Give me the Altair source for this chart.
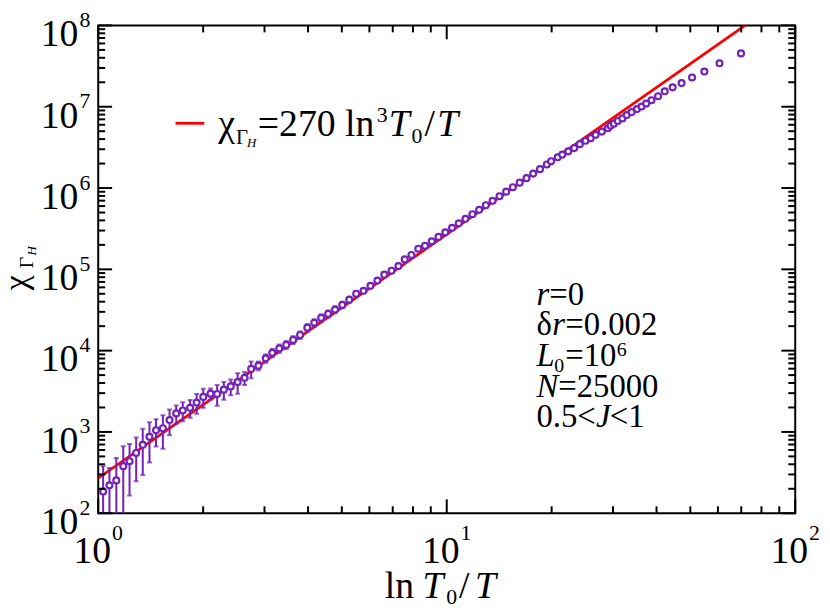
import altair as alt
import pandas as pd

# ---- data ----
ln_T0_T = [1.033, 1.077, 1.127, 1.180, 1.230, 1.285, 1.342, 1.403, 1.465, 1.533,
           1.602, 1.674, 1.748, 1.835, 1.916, 2.002, 2.100, 2.194, 2.293, 2.400,
           2.512, 2.630, 2.747, 2.882, 3.024, 3.159, 3.307, 3.463, 3.625, 3.795,
           3.981, 4.168, 4.363, 4.568, 4.782, 5.017, 5.252, 5.498, 5.771, 6.041,
           6.325, 6.621, 6.945, 7.271, 7.578, 7.922, 8.288, 8.665, 9.060, 9.471,
           9.908, 10.36, 10.83, 11.32, 11.85, 12.39, 12.95, 13.54, 14.17, 14.81,
           15.48, 16.19, 16.94, 17.71, 18.52, 19.37, 19.93, 20.82, 21.46, 22.32,
           23.21, 24.09, 25.01, 25.89, 26.75, 27.87, 29.00, 29.51, 30.16, 30.96,
           31.92, 32.84, 33.93, 35.15, 36.23, 37.36, 38.68, 40.41, 42.22, 44.49,
           47.20, 50.58, 54.86, 60.64, 69.89]

chi = [184.8, 220.4, 253.6, 379.6, 436.7, 551.0, 695.0, 869.8, 1049, 1110,
       1400, 1690, 1838, 1982, 2299, 2696, 2958, 2933, 3309, 3629,
       4105, 4630, 5959, 6535, 8040, 9406, 10640, 11770, 13540, 15570,
       19160, 22040, 25350, 28360, 31990, 36490, 42340, 50090, 54480, 62660,
       72700, 85990, 96180, 109700, 132400, 150200, 179200, 194800, 221000, 250700,
       285200, 324400, 367900, 418500, 476100, 540000, 614200, 697000, 792800, 901800,
       1.023e6, 1.164e6, 1.324e6, 1.506e6, 1.708e6, 1.948e6, 2.137e6, 2.390e6, 2.577e6, 2.827e6,
       3.100e6, 3.468e6, 3.815e6, 4.104e6, 4.514e6, 4.950e6, 5.429e6, 5.856e6, 6.194e6, 6.683e6,
       7.186e6, 7.906e6, 8.598e6, 9.350e6, 1.006e7, 1.094e7, 1.203e7, 1.346e7, 1.548e7, 1.732e7,
       1.954e7, 2.292e7, 2.711e7, 3.421e7, 4.528e7]

# error bars (visible for the first points only)
chi_err = [195, 140, 225, 285, 272, 304, 400, 450, 388, 490,
           490, 430, 480, 490, 630, 710, 475, 840, 820, 800,
           1160, 850, 1400, 800, 950, 1100, 1250, 1350, 1500, 1700,
           2050, 2300, 2600, 2850, 3100, 3400, 3500, 3700, 3600, 3800,
           3900, 4200, 4300, 4500, 4800]

fit_coef = 270
fit_power = 3
fit_x = [1.0, 100.0]

x_decades = [1, 10, 100]
x_exps = ["0", "1", "2"]
y_decades = [1e2, 1e3, 1e4, 1e5, 1e6, 1e7, 1e8]
y_exps = ["2", "3", "4", "5", "6", "7", "8"]

# ---- styling ----
W, H = 703, 492
OX, OY = 99, 23
PURPLE = "#7221BC"
RED = "#FF0000"
FONT = "'Liberation Serif', 'Times New Roman', 'DejaVu Serif', serif"

xs = alt.Scale(type="log", domain=[1, 100], nice=False)
ys = alt.Scale(type="log", domain=[1e2, 1e8], nice=False)

pts = pd.DataFrame({"x": ln_T0_T, "y": chi})
n = len(chi_err)
eb = pd.DataFrame({"x": ln_T0_T[:n], "y": chi[:n], "err": chi_err})
eb["lo_raw"] = eb["y"] - eb["err"]
eb["lo"] = eb["lo_raw"].clip(lower=10)
eb["hi"] = eb["y"] + eb["err"]
caps_hi = eb[["x", "hi"]].rename(columns={"hi": "c"})
caps_lo = eb.loc[eb["lo_raw"] > 0, ["x", "lo_raw"]].rename(columns={"lo_raw": "c"})
caps = pd.concat([caps_hi, caps_lo], ignore_index=True)

fit = pd.DataFrame({"x": fit_x, "y": [fit_coef * v ** fit_power for v in fit_x]})

X = lambda f: alt.X(f, type="quantitative", scale=xs, axis=None)
Y = lambda f: alt.Y(f, type="quantitative", scale=ys, axis=None)

layers = []

# fit line
layers.append(alt.Chart(fit).mark_line(color=RED, strokeWidth=2.8, clip=True)
              .encode(x=X("x"), y=Y("y")))
# error bars
layers.append(alt.Chart(eb).mark_rule(color=PURPLE, strokeWidth=2, clip=True)
              .encode(x=X("x"), y=Y("lo"), y2="hi"))
layers.append(alt.Chart(caps).mark_tick(color=PURPLE, orient="horizontal", size=5,
                                        thickness=2, clip=True)
              .encode(x=X("x"), y=Y("c")))
# points
layers.append(alt.Chart(pts).mark_point(shape="circle", filled=True, fill="white",
                                        stroke=PURPLE, strokeWidth=2.2, size=36, opacity=1)
              .encode(x=X("x"), y=Y("y")))

# ---- inward ticks on all four sides ----
x_major = pd.DataFrame({"v": x_decades})
x_minor = pd.DataFrame({"v": [k * d for d in x_decades[:-1] for k in range(2, 10)]})
y_major = pd.DataFrame({"v": y_decades})
y_minor = pd.DataFrame({"v": [k * d for d in y_decades[:-1] for k in range(2, 10)]})

for df, ln in ((x_major, 14), (x_minor, 7)):
    layers.append(alt.Chart(df).mark_rule(color="black", strokeWidth=2)
                  .encode(x=X("v"), y=alt.value(H), y2=alt.value(H - ln)))
    layers.append(alt.Chart(df).mark_rule(color="black", strokeWidth=2)
                  .encode(x=X("v"), y=alt.value(0), y2=alt.value(ln)))
for df, ln in ((y_major, 14), (y_minor, 7)):
    layers.append(alt.Chart(df).mark_rule(color="black", strokeWidth=2)
                  .encode(y=Y("v"), x=alt.value(0), x2=alt.value(ln)))
    layers.append(alt.Chart(df).mark_rule(color="black", strokeWidth=2)
                  .encode(y=Y("v"), x=alt.value(W), x2=alt.value(W - ln)))

# ---- tick labels ----
ylab = pd.DataFrame({"v": y_decades, "e": y_exps})
layers.append(alt.Chart(ylab).mark_text(text="10", align="right", baseline="alphabetic",
                                        font=FONT, fontSize=38, dy=21)
              .encode(y=Y("v"), x=alt.value(79 - OX)))
layers.append(alt.Chart(ylab).mark_text(align="left", baseline="alphabetic",
                                        font=FONT, fontSize=22, dy=1.5)
              .encode(y=Y("v"), x=alt.value(80 - OX), text="e:N"))

xlab = pd.DataFrame({"v": x_decades, "e": x_exps})
layers.append(alt.Chart(xlab).mark_text(text="10", align="right", baseline="alphabetic",
                                        font=FONT, fontSize=38, dx=13)
              .encode(x=X("v"), y=alt.value(565 - OY)))
layers.append(alt.Chart(xlab).mark_text(align="left", baseline="alphabetic",
                                        font=FONT, fontSize=22, dx=14)
              .encode(x=X("v"), y=alt.value(542 - OY), text="e:N"))

one = pd.DataFrame({"a": [0]})


def txt(s, x, y, size, italic=False, angle=0):
    kw = dict(text=s, align="left", baseline="alphabetic", font=FONT, fontSize=size,
              color="black", angle=angle)
    if italic:
        kw["fontStyle"] = "italic"
    return alt.Chart(one).mark_text(**kw).encode(x=alt.value(x - OX), y=alt.value(y - OY))


# x-axis title: ln T0/T
layers += [txt("ln", 388, 600, 38), txt("T", 426, 600, 38, True), txt("0", 450, 607, 22),
           txt("/", 463, 600, 38), txt("T", 479, 600, 38, True)]

# y-axis title: chi_{Gamma_H} (rotated, reads bottom to top)
layers += [txt("\u03c7", 27, 290, 34, angle=270), txt("\u0393", 33, 268, 20, angle=270),
           txt("H", 36, 255, 13, True, angle=270)]

# legend
layers.append(alt.Chart(one).mark_rule(color=RED, strokeWidth=2.8)
              .encode(x=alt.value(177 - OX), x2=alt.value(206 - OX), y=alt.value(121.7 - OY)))
layers += [txt("\u03c7", 220, 135, 38), txt("\u0393", 238, 143, 21), txt("H", 249, 146, 13, True),
           txt("=270 ln", 260, 135, 38), txt("3", 380, 120, 22), txt("T", 392, 135, 38, True),
           txt("0", 415, 142, 22), txt("/", 428, 135, 38), txt("T", 441, 135, 38, True)]

# annotation block
layers += [txt("r", 541, 305, 33, True), txt("=0", 554, 305, 33),
           txt("\u03b4", 541, 335.5, 33), txt("r", 557, 335.5, 33, True), txt("=0.002", 570, 335.5, 33),
           txt("L", 541, 366.5, 33, True), txt("0", 559, 373, 20), txt("=10", 570, 366.5, 33),
           txt("6", 622, 356, 20),
           txt("N", 541, 397.5, 33, True), txt("=25000", 563, 397.5, 33),
           txt("0.5<", 541, 428, 33), txt("J", 601, 428, 33, True), txt("<1", 615, 428, 33)]

chart = alt.layer(*layers).properties(
    width=W, height=H,
    autosize=alt.AutoSizeParams(type="none"),
    padding={"left": OX - 8, "top": OY - 8, "right": 27, "bottom": 94},
    background="white",
).configure_view(stroke="black", strokeWidth=2)

chart.save("out.html", embed_options={"renderer": "svg", "actions": False})
